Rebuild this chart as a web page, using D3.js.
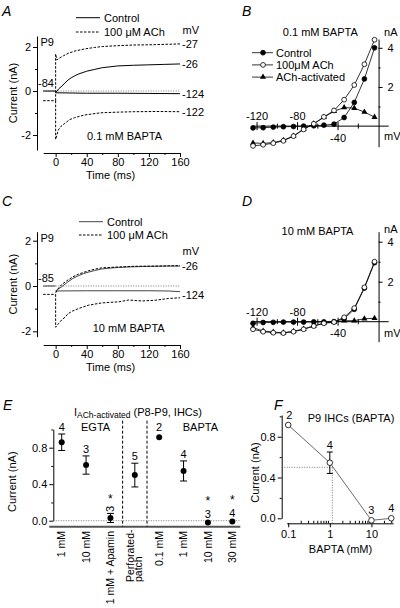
<!DOCTYPE html>
<html><head><meta charset="utf-8">
<script src="https://cdn.jsdelivr.net/npm/d3@7"></script>
<style>
html,body{margin:0;padding:0;background:#fff;}
svg{display:block;}
</style></head>
<body>
<svg id="fig" width="400" height="608"></svg>
<script>
// ================= DATA =================
// Panels A / C : current traces (nA) vs time (ms)
const holdT = [-16, 0];
// A : 0.1 mM BAPTA
const aCtrlHold = [0, 0];
const aAchHold = [-0.44, -0.44];
const aCtrlDepT = [0, 4, 8, 12, 16, 20, 25, 30, 40, 50, 60, 70, 80, 100, 120, 140, 160];
const aCtrlDep  = [-0.08, 0.1, 0.22, 0.37, 0.5, 0.6, 0.7, 0.78, 0.9, 0.98, 1.06, 1.1, 1.14, 1.17, 1.19, 1.21, 1.23];
const aCtrlHypT = [0, 40, 80, 120, 160];
const aCtrlHyp  = [-0.08, -0.1, -0.1, -0.11, -0.12];
const aAchDepT  = [0, 0, 1.5, 5, 10, 16, 25, 37, 50, 60, 80, 100, 120, 140, 160];
const aAchDep   = [-0.44, 1.68, 1.41, 1.5, 1.6, 1.71, 1.82, 1.91, 1.98, 2.02, 2.06, 2.09, 2.1, 2.12, 2.14];
const aAchHypT  = [0, 0, 3.4, 7, 11.8, 18, 24.5, 37, 58, 80, 101, 130, 160];
const aAchHyp   = [-0.44, -2.2, -1.77, -1.6, -1.47, -1.3, -1.21, -1.09, -0.99, -0.96, -0.94, -0.93, -0.94];
// C : 10 mM BAPTA
const cCtrlHold = [0, 0];
const cAchHold = [-0.37, -0.37];
const cCtrlDepT = [0, 4, 8, 12, 16, 22, 29, 36, 42, 50, 59, 70, 81, 94, 102, 111, 128, 145, 160];
const cCtrlDep  = [-0.22, -0.12, -0.03, 0.08, 0.19, 0.33, 0.45, 0.55, 0.61, 0.68, 0.75, 0.79, 0.82, 0.84, 0.85, 0.86, 0.87, 0.88, 0.88];
const cCtrlHypT = [0, 40, 80, 120, 145, 160];
const cCtrlHyp  = [-0.22, -0.21, -0.21, -0.21, -0.22, -0.25];
const cAchDepT  = [0, 4, 8, 12, 16, 22, 29, 36, 42, 50, 59, 70, 81, 102, 128, 160];
const cAchDep   = [-0.3, -0.08, 0.07, 0.17, 0.27, 0.4, 0.52, 0.6, 0.67, 0.74, 0.8, 0.82, 0.84, 0.87, 0.88, 0.9];
const cAchHypT  = [0, 0, 4, 8, 12, 16, 22, 29, 36, 42, 50, 59, 70, 81, 94, 102, 111, 128, 145, 160];
const cAchHyp   = [-0.37, -1.82, -1.65, -1.49, -1.38, -1.22, -1.1, -1.0, -0.92, -0.85, -0.8, -0.75, -0.72, -0.7, -0.62, -0.64, -0.66, -0.63, -0.55, -0.52];

const timeDomain = [-16, 160];
const timeMajor = [0, 40, 80, 120, 160];
const timeMinor = [20, 60, 100, 140];
const curMajor = [-2, 0, 2];
const curMinor = [-1, 1];

// Panels B / D : I-V curves
const ivV = [-124, -114, -104, -94, -84, -74, -64, -54, -44, -34, -24, -14, -4];
const bCtrl = [-0.09, -0.08, -0.05, -0.03, -0.02, 0, 0.02, 0.05, 0.1, 0.44, 1.21, 2.41, 4.0];
const bAch  = [-1.01, -0.95, -0.87, -0.75, -0.51, -0.17, 0.12, 0.47, 0.8, 1.35, 2.1, 3.16, 4.41];
const bAct  = [-0.86, -0.88, -0.84, -0.72, -0.5, -0.15, 0.12, 0.45, 0.76, 0.95, 0.92, 0.72, 0.46];
const dCtrl = [-0.08, -0.04, -0.03, -0.02, -0.02, -0.02, -0.01, -0.01, 0.0, 0.15, 0.62, 1.68, 2.95];
const dAch  = [-0.38, -0.5, -0.55, -0.57, -0.5, -0.38, -0.22, -0.08, -0.02, 0.22, 0.68, 1.72, 3.0];
const dAct  = [-0.3, -0.46, -0.52, -0.55, -0.48, -0.36, -0.21, -0.07, -0.02, 0.05, 0.05, 0.15, 0.17];
const ivDomain = [-125, 10];
const ivMajor = [-120, -80, -40];
const ivMinor = [-100, -60, -20];
const ivCurMajor = [2, 4];
const ivCurMinor = [1, 3];
const ivLegend = ["Control", "100\u03BCM ACh", "ACh-activated"];

// Panel E
const eCats = ["1 mM", "10 mM", "1 mM + Apamin", "Perforated-patch", "0.1 mM", "1 mM", "10 mM", "30 mM"];
const eMean = [0.86, 0.61, 0.03, 0.50, 0.915, 0.545, -0.02, -0.01];
const eErr  = [0.09, 0.10, 0.05, 0.13, 0, 0.11, 0, 0];
const eN    = [4, 3, 3, 5, 2, 4, 3, 4];
const eSig  = [false, false, true, false, false, false, true, true];
const eMajor = [0, 0.4, 0.8];
const eMinor = [0.2, 0.6, 1.0];

// Panel F
const fConc = [0.1, 1, 10, 30];
const fMean = [0.915, 0.545, -0.02, 0.0];
const fErr  = [0, 0.105, 0, 0];
const fN    = [2, 4, 3, 4];
const fHalf = [1.15, 0.5];
const fMajor = [0.1, 1, 10];
const fMinor = [0.2, 0.3, 0.4, 0.5, 0.6, 0.7, 0.8, 0.9, 2, 3, 4, 5, 6, 7, 8, 9, 20, 30];

// ================= DRAWING =================
const FONT = "'Liberation Sans', Arial, Helvetica, sans-serif";
const svg = d3.select("#fig");
svg.append("rect").attr("width", 400).attr("height", 608).attr("fill", "#fff");

function txt(g, x, y, s, o = {}) {
  const t = g.append("text").attr("x", x).attr("y", y).text(s)
    .attr("font-family", FONT).attr("font-size", o.size || 11).attr("fill", o.color || "#000")
    .attr("text-anchor", o.anchor || "start");
  if (o.italic) t.attr("font-style", "italic");
  if (o.rotate) t.attr("transform", `rotate(${o.rotate},${x},${y})`);
  if (o.dy) t.attr("dy", o.dy);
  return t;
}
function styleAx(sel, fs) {
  sel.attr("font-family", FONT).attr("font-size", fs || 11);
  sel.selectAll(".domain").attr("stroke", "#000").attr("stroke-width", 1);
  sel.selectAll(".tick line").attr("stroke", "#000").attr("stroke-width", 1);
  sel.selectAll("text").attr("fill", "#000");
  return sel;
}
function minorAx(g, axis) {
  const m = g.call(axis);
  m.select(".domain").remove();
  m.selectAll("text").remove();
  styleAx(m);
  return m;
}
function pathOf(xs, ys, xS, yS) {
  return d3.line().x(d => xS(d[0])).y(d => yS(d[1]))(xs.map((t, i) => [t, ys[i]]));
}

// ---------- Trace panels (A, C) ----------
function tracePanel(P) {
  const g = svg.append("g");
  const x = d3.scaleLinear().domain(timeDomain).range(P.xr);
  const y = d3.scaleLinear().domain(P.yd).range(P.yr);
  styleAx(g.append("g").attr("transform", `translate(${P.yAxisX},0)`)
    .call(d3.axisLeft(y).tickValues(curMajor).tickSize(4).tickPadding(2).tickSizeOuter(0).tickFormat(d => String(d))));
  minorAx(g.append("g").attr("transform", `translate(${P.yAxisX},0)`),
    d3.axisLeft(y).tickValues(curMinor).tickSize(2).tickFormat(""));
  styleAx(g.append("g").attr("transform", `translate(0,${P.xAxisY})`)
    .call(d3.axisBottom(x).tickValues(timeMajor).tickSize(4).tickPadding(1.5).tickSizeOuter(0)));
  minorAx(g.append("g").attr("transform", `translate(0,${P.xAxisY})`),
    d3.axisBottom(x).tickValues(timeMinor).tickSize(2).tickFormat(""));
  // zero line
  g.append("line").attr("x1", x(timeDomain[0])).attr("x2", x(timeDomain[1]))
    .attr("y1", y(0)).attr("y2", y(0)).attr("stroke", "#555").attr("stroke-width", 0.8)
    .attr("stroke-dasharray", "1,1.5");
  P.traces.forEach(tr => {
    g.append("path").attr("d", pathOf(tr.t, tr.v, x, y)).attr("fill", "none")
      .attr("stroke", tr.dash ? "#000" : P.ctrlColor).attr("stroke-width", 1)
      .attr("stroke-dasharray", tr.dash ? "2.5,1.5" : null);
  });
  // voltage labels at trace ends
  P.vLabels.forEach(l => {
    const ends = l.of.map(tr => tr.v[tr.v.length - 1]);
    txt(g, x(timeDomain[1]) + 2, y(d3.mean(ends)) + 4.5, l.s);
  });
  txt(g, x(timeDomain[1]) + 2.5, P.mvY, "mV");
  txt(g, P.yAxisX + 1, y(0) - 4.5, P.hold);
  txt(g, P.yAxisX + 3.5, P.p9Y, "P9");
  txt(g, P.condX, P.condY, P.cond, { anchor: "middle" });
  // legend
  const lg = P.legend;
  g.append("line").attr("x1", lg.x).attr("x2", lg.x + 24).attr("y1", lg.y1).attr("y2", lg.y1)
    .attr("stroke", P.ctrlColor).attr("stroke-width", 1);
  g.append("line").attr("x1", lg.x).attr("x2", lg.x + 24).attr("y1", lg.y2).attr("y2", lg.y2)
    .attr("stroke", "#000").attr("stroke-width", 1).attr("stroke-dasharray", "2.5,1.5");
  txt(g, lg.x + 28, lg.y1 + 4, "Control");
  txt(g, lg.x + 28, lg.y2 + 4, "100 \u03BCM ACh");
  txt(g, (P.xr[0] + P.xr[1]) / 2 - 1, P.xAxisY + 25.5, "Time (ms)", { anchor: "middle" });
  txt(g, 17, (P.yr[0] + P.yr[1]) / 2, "Current (nA)", { anchor: "middle", rotate: -90 });
}

const trA = {
  ch: { t: holdT, v: aCtrlHold }, ah: { t: holdT, v: aAchHold, dash: true },
  cd: { t: aCtrlDepT, v: aCtrlDep }, cy: { t: aCtrlHypT, v: aCtrlHyp },
  ad: { t: aAchDepT, v: aAchDep, dash: true }, ay: { t: aAchHypT, v: aAchHyp, dash: true }
};
tracePanel({
  xr: [43.2, 180], yd: [-2.68, 2.5], yr: [150, 36], yAxisX: 37, xAxisY: 153,
  ctrlColor: "#000",
  traces: [trA.ch, trA.ah, trA.cy, trA.cd, trA.ad, trA.ay],
  vLabels: [{ s: "-27", of: [trA.ad] }, { s: "-26", of: [trA.cd] }, { s: "-124", of: [trA.cy] }, { s: "-122", of: [trA.ay] }],
  mvY: 34, hold: "-84", p9Y: 46, cond: "0.1 mM BAPTA", condX: 124.5, condY: 140,
  legend: { x: 76, y1: 17.7, y2: 32 }
});
const trC = {
  ch: { t: holdT, v: cCtrlHold }, ah: { t: holdT, v: cAchHold, dash: true },
  cd: { t: cCtrlDepT, v: cCtrlDep }, cy: { t: cCtrlHypT, v: cCtrlHyp },
  ad: { t: cAchDepT, v: cAchDep, dash: true }, ay: { t: cAchHypT, v: cAchHyp, dash: true }
};
tracePanel({
  xr: [43.2, 180], yd: [-2.238, 2.397], yr: [336.7, 231.7], yAxisX: 37, xAxisY: 345,
  ctrlColor: "#444",
  traces: [trC.ch, trC.ah, trC.cy, trC.cd, trC.ad, trC.ay],
  vLabels: [{ s: "-26", of: [trC.cd, trC.ad] }, { s: "-124", of: [trC.cy, trC.ay] }],
  mvY: 255, hold: "-85", p9Y: 242, cond: "10 mM BAPTA", condX: 128.7, condY: 332,
  legend: { x: 79, y1: 221.7, y2: 235 }
});

// ---------- I-V panels (B, D) ----------
function ivPanel(P) {
  const g = svg.append("g");
  const x = d3.scaleLinear().domain(ivDomain).range(P.xr);
  const y = d3.scaleLinear().domain(P.yd).range(P.yr);
  const y0 = y(0);
  g.append("line").attr("x1", x(ivDomain[0])).attr("x2", x(ivDomain[1])).attr("y1", y0).attr("y2", y0)
    .attr("stroke", "#000").attr("stroke-width", 1);
  g.selectAll(".mj").data(ivMajor).join("line").attr("x1", d => x(d)).attr("x2", d => x(d))
    .attr("y1", y0 - 4).attr("y2", y0 + 4).attr("stroke", "#000").attr("stroke-width", 1);
  g.selectAll(".mn").data(ivMinor).join("line").attr("x1", d => x(d)).attr("x2", d => x(d))
    .attr("y1", y0 - 2.5).attr("y2", y0 + 2.5).attr("stroke", "#000").attr("stroke-width", 1);
  ivMajor.forEach(v => {
    if (v > -60) txt(g, x(v), y0 + 15.5, String(v), { anchor: "middle" });
    else txt(g, x(v), y0 - 6, String(v), { anchor: "middle" });
  });
  styleAx(g.append("g").attr("transform", `translate(${x(0)},0)`)
    .call(d3.axisRight(y).tickValues(ivCurMajor).tickSize(4).tickPadding(5).tickSizeOuter(0).tickFormat(d => String(d))));
  minorAx(g.append("g").attr("transform", `translate(${x(0)},0)`),
    d3.axisRight(y).tickValues(ivCurMinor).tickSize(2).tickFormat(""));
  txt(g, x(0) + 5.5, P.naY, "nA");
  txt(g, x(0) + 5.5, P.mvY, "mV");
  txt(g, P.condX, P.condY, P.cond, { anchor: "middle" });

  const series = [
    { v: P.ctrl, kind: "filled" },
    { v: P.ach, kind: "open" },
    { v: P.act, kind: "tri" }
  ];
  series.forEach(s => {
    g.append("path").attr("d", pathOf(ivV, s.v, x, y)).attr("fill", "none")
      .attr("stroke", "#000").attr("stroke-width", 0.8);
  });
  const drawMarker = (sel, kind) => {
    if (kind === "tri") {
      sel.append("path").attr("d", d3.symbol(d3.symbolTriangle, 16)()).attr("fill", "#000");
    } else {
      sel.append("circle").attr("r", 2.4)
        .attr("fill", kind === "open" ? "#fff" : "#000").attr("stroke", "#000").attr("stroke-width", 0.8);
    }
  };
  [series[2], series[0], series[1]].forEach(s => {
    ivV.forEach((v, i) => {
      const m = g.append("g").attr("transform", `translate(${x(v)},${y(s.v[i])})`);
      drawMarker(m, s.kind);
    });
  });
  if (P.legend) {
    const kinds = ["filled", "open", "tri"];
    ivLegend.forEach((lab, i) => {
      const yy = P.legend.y + i * P.legend.dy;
      g.append("line").attr("x1", P.legend.x).attr("x2", P.legend.x + 21).attr("y1", yy).attr("y2", yy)
        .attr("stroke", "#000").attr("stroke-width", 0.8);
      drawMarker(g.append("g").attr("transform", `translate(${P.legend.x + 11},${yy})`), kinds[i]);
      txt(g, P.legend.x + 24, yy + 4, lab);
    });
  }
}
ivPanel({
  xr: [252, 388.7], yd: [-1.05, 4.45], yr: [146.7, 39.0],
  ctrl: bCtrl, ach: bAch, act: bAct,
  naY: 36, mvY: 140, cond: "0.1 mM BAPTA", condX: 320.3, condY: 36,
  legend: { x: 252, y: 52.7, dy: 12.2 }
});
ivPanel({
  xr: [252, 388.7], yd: [-1.0, 4.5], yr: [341.7, 231.7],
  ctrl: dCtrl, ach: dAch, act: dAct,
  naY: 233, mvY: 336.7, cond: "10 mM BAPTA", condX: 317.5, condY: 235
});

// ---------- Panel E ----------
(function () {
  const g = svg.append("g");
  const x = d3.scalePoint().domain(d3.range(eCats.length)).range([61.7, 232.3]);
  const y = d3.scaleLinear().domain([0, 1]).range([520.7, 429.45]);
  const axX = 53.3;
  styleAx(g.append("g").attr("transform", `translate(${axX},0)`)
    .call(d3.axisLeft(y).tickValues(eMajor).tickSize(4).tickPadding(2).tickSizeOuter(0).tickFormat(d3.format(".1f"))));
  minorAx(g.append("g").attr("transform", `translate(${axX},0)`),
    d3.axisLeft(y).tickValues(eMinor).tickSize(2).tickFormat(""));
  // base line (x axis)
  g.append("line").attr("x1", x(0) - 12.5).attr("x2", x(eCats.length - 1) + 8).attr("y1", 526.7).attr("y2", 526.7)
    .attr("stroke", "#555").attr("stroke-width", 2);
  g.append("line").attr("x1", axX).attr("x2", x(eCats.length - 1) + 8).attr("y1", y(0)).attr("y2", y(0))
    .attr("stroke", "#555").attr("stroke-width", 0.8).attr("stroke-dasharray", "1,1.5");
  [(x(2) + x(3)) / 2, (x(3) + x(4)) / 2].forEach(sx => {
    g.append("line").attr("x1", sx).attr("x2", sx).attr("y1", 420.7).attr("y2", 526.7)
      .attr("stroke", "#000").attr("stroke-width", 1).attr("stroke-dasharray", "3,2");
  });
  eMean.forEach((m, i) => {
    const cx = x(i);
    if (eErr[i] > 0) {
      const e = eErr[i];
      g.append("line").attr("x1", cx).attr("x2", cx).attr("y1", y(m - e)).attr("y2", y(m + e)).attr("stroke", "#000");
      [m - e, m + e].forEach(v => g.append("line").attr("x1", cx - 3.5).attr("x2", cx + 3.5)
        .attr("y1", y(v)).attr("y2", y(v)).attr("stroke", "#000"));
    }
    g.append("circle").attr("cx", cx).attr("cy", y(m)).attr("r", 3).attr("fill", "#000");
    const top = eErr[i] > 0 ? y(m + eErr[i]) : y(m) - 3;
    if (eSig[i]) {
      if (eErr[i] > 0) {
        txt(g, cx, top - 4.5, String(eN[i]), { anchor: "middle", rotate: -90, dy: "0.35em" });
        txt(g, cx, top - 10.5, "*", { anchor: "middle", size: 12 });
      } else {
        txt(g, cx, y(m) - 5, String(eN[i]), { anchor: "middle" });
        txt(g, cx, y(m) - 18, "*", { anchor: "middle", size: 12 });
      }
    } else {
      txt(g, cx, top - 3, String(eN[i]), { anchor: "middle" });
    }
    // category label
    if (eCats[i].indexOf("-") > 0) {
      const parts = eCats[i].split("-");
      const lg = g.append("g").attr("transform", `translate(${cx},582) rotate(-90)`);
      const t = txt(lg, 0, 0, "", { size: 10.5 });
      t.append("tspan").attr("x", 0).attr("dy", "-0.12em").text(parts[0] + "-");
      t.append("tspan").attr("x", 0).attr("dy", "0.85em").text(parts[1]);
    } else {
      const lg = g.append("g").attr("transform", `translate(${cx},531) rotate(-90)`);
      txt(lg, 0, 0, eCats[i], { size: 10.5, anchor: "end", dy: "0.35em" });
    }
  });
  txt(g, x(1) + 9.5, 431, "EGTA", { anchor: "middle" });
  txt(g, x(6) - 7.5, 431, "BAPTA", { anchor: "middle" });
  const t = txt(g, 74, 415.5, "I");
  t.append("tspan").attr("font-size", 8.5).attr("dy", 2.5).text("ACh-activated");
  t.append("tspan").attr("dy", -2.5).text(" (P8-P9, IHCs)");
  txt(g, 16.5, 481.7, "Current (nA)", { anchor: "middle", rotate: -90 });
})();

// ---------- Panel F ----------
(function () {
  const g = svg.append("g");
  const x = d3.scaleLog().domain([0.092, 33]).range([286.7, 393]);
  const y = d3.scaleLinear().domain([0, 1.013]).range([518.3, 415]);
  const axX = 281.7, axY = 523.3;
  styleAx(g.append("g").attr("transform", `translate(${axX},0)`)
    .call(d3.axisLeft(y).tickValues(eMajor).tickSize(4).tickPadding(2).tickSizeOuter(0).tickFormat(d3.format(".1f"))));
  minorAx(g.append("g").attr("transform", `translate(${axX},0)`),
    d3.axisLeft(y).tickValues(eMinor).tickSize(2).tickFormat(""));
  styleAx(g.append("g").attr("transform", `translate(0,${axY})`)
    .call(d3.axisBottom(x).tickValues(fMajor).tickSize(4).tickPadding(3).tickSizeOuter(0).tickFormat(d => String(d))));
  minorAx(g.append("g").attr("transform", `translate(0,${axY})`),
    d3.axisTop(x).tickValues(fMinor).tickSize(2.5).tickFormat(""));
  // half-max dotted guides
  g.append("line").attr("x1", axX).attr("x2", x(fHalf[0])).attr("y1", y(fHalf[1])).attr("y2", y(fHalf[1]))
    .attr("stroke", "#555").attr("stroke-width", 0.8).attr("stroke-dasharray", "1,1.5");
  g.append("line").attr("x1", x(fHalf[0])).attr("x2", x(fHalf[0])).attr("y1", y(fHalf[1])).attr("y2", axY)
    .attr("stroke", "#555").attr("stroke-width", 0.8).attr("stroke-dasharray", "1,1.5");
  g.append("path").attr("d", pathOf(fConc, fMean, x, y)).attr("fill", "none")
    .attr("stroke", "#444").attr("stroke-width", 0.8);
  fConc.forEach((c, i) => {
    const cx = x(c), m = fMean[i];
    if (fErr[i] > 0) {
      const e = fErr[i];
      g.append("line").attr("x1", cx).attr("x2", cx).attr("y1", y(m - e)).attr("y2", y(m + e)).attr("stroke", "#000");
      [m - e, m + e].forEach(v => g.append("line").attr("x1", cx - 3).attr("x2", cx + 3)
        .attr("y1", y(v)).attr("y2", y(v)).attr("stroke", "#000"));
    }
    g.append("circle").attr("cx", cx).attr("cy", y(m)).attr("r", 2.8).attr("fill", "#fff")
      .attr("stroke", "#000").attr("stroke-width", 0.8);
    const top = fErr[i] > 0 ? y(m + fErr[i]) : y(m) - 2.8;
    txt(g, cx + (i === 0 ? 1 : 0), top - 3.5, String(fN[i]), { anchor: "middle" });
  });
  txt(g, 351, 421.7, "P9 IHCs (BAPTA)", { anchor: "middle" });
  txt(g, 340.5, 552.7, "BAPTA (mM)", { anchor: "middle" });
  txt(g, 258.5, 472.5, "Current (nA)", { anchor: "middle", rotate: -90 });
})();

// ---------- Panel letters ----------
[["A", 2, 16], ["B", 242, 16], ["C", 2, 206], ["D", 242, 206], ["E", 3, 410], ["F", 274, 410]]
  .forEach(p => txt(svg, p[1], p[2], p[0], { size: 14, italic: true }));
</script>
</body></html>
